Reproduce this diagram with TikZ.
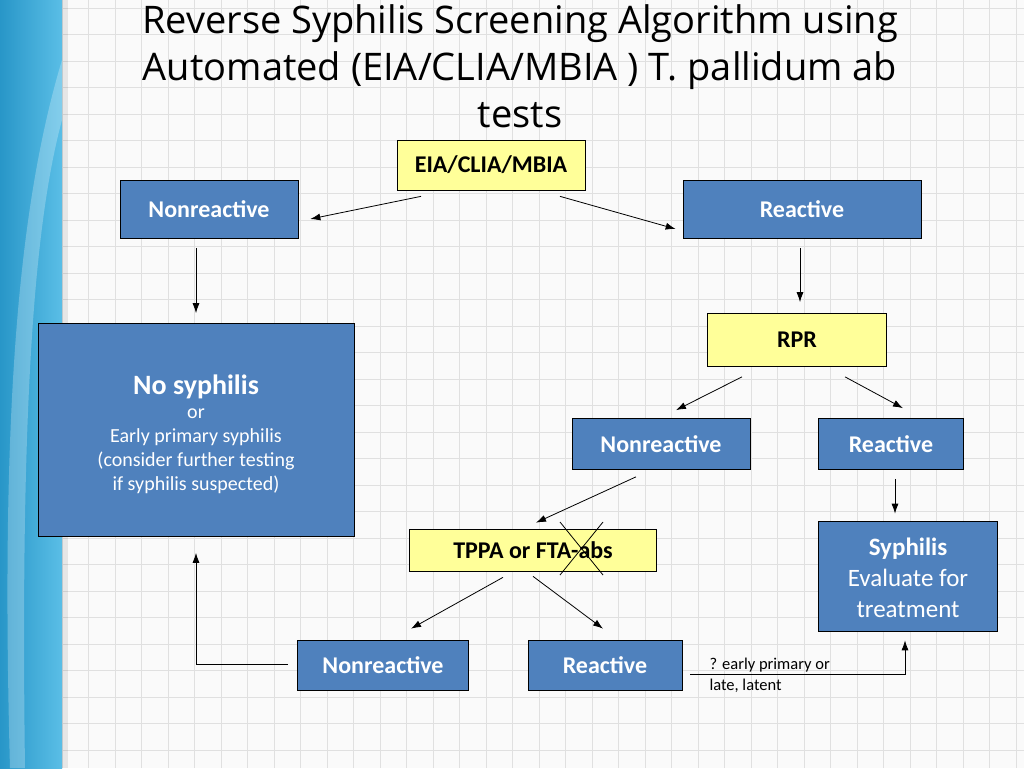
\documentclass[tikz,border=0pt]{standalone}
\usepackage{fontspec}
\usetikzlibrary{arrows.meta}
\setmainfont{Carlito}
\newfontfamily\titlefont{Open Sans}
\begin{document}
\begin{tikzpicture}[x=1pt,y=-1pt,
  blu/.style={draw=black,fill={rgb,255:red,79;green,129;blue,189},text=white,font=\bfseries\fontsize{24}{28}\selectfont,align=center,inner sep=0,line width=0.7pt},
  yel/.style={draw=black,fill={rgb,255:red,255;green,255;blue,153},font=\bfseries\fontsize{24}{28}\selectfont,inner sep=0,line width=0.7pt},
  arr/.style={-{Latex[length=10pt,width=7pt]},line width=0.8pt}]
\useasboundingbox (0,0) rectangle (1024,768);
\fill[white!98!black] (0,0) rectangle (1024,768);
\foreach \i in {0,...,38} \draw[black!12,line width=0.8pt] (62+\i*26.5,0) -- (62+\i*26.5,768);
\foreach \i in {0,...,29} \draw[black!12,line width=0.8pt] (62,8+\i*26.5) -- (1024,8+\i*26.5);
\shade[left color={rgb,255:red,40;green,150;blue,200},right color={rgb,255:red,90;green,190;blue,230}] (0,0) rectangle (62,768);
\fill[white,opacity=0.25] (62,60) .. controls (20,200) and (0,400) .. (10,768) -- (25,768) .. controls (20,400) and (35,220) .. (62,120) -- cycle;
\fill[black,opacity=0.08] (62,0) rectangle (68,768);
\node[font=\titlefont\fontsize{38}{47}\selectfont,align=center] (title) at (520,66) {Reverse Syphilis Screening Algorithm using\\Automated (EIA/CLIA/MBIA ) T. pallidum ab\\tests};
\node[yel,minimum width=188,minimum height=50] (eia) at (491,165) {EIA/CLIA/MBIA};
\node[blu,minimum width=178,minimum height=58] (nr1) at (209,209) {Nonreactive};
\node[blu,minimum width=238,minimum height=58] (r1) at (802,209) {Reactive};
\node[blu,minimum width=316,minimum height=213] (ns) at (196,430) {};
\node[text=white,align=center,font=\fontsize{20}{24}\selectfont] (nst) at (196,434) {{\bfseries\fontsize{28}{31}\selectfont No syphilis}\\or\\Early primary syphilis\\(consider further testing\\if syphilis suspected)};
\node[yel,minimum width=179,minimum height=53] (rpr) at (797,340) {RPR};
\node[blu,minimum width=178,minimum height=51] (nr2) at (661,444) {Nonreactive};
\node[blu,minimum width=145,minimum height=51] (r2) at (891,444) {Reactive};
\node[blu,minimum width=179,minimum height=110] (sy) at (908,576) {};
\node[text=white,align=center,font=\fontsize{25}{31}\selectfont] (syt) at (908,578) {{\bfseries Syphilis}\\Evaluate for\\treatment};
\node[yel,minimum width=247,minimum height=42] (tp) at (533,550) {TPPA or FTA-abs};
\node[blu,minimum width=171,minimum height=50] (nr3) at (383,665) {Nonreactive};
\node[blu,minimum width=154,minimum height=50] (r3) at (605,665) {Reactive};
\node[font=\fontsize{16.5}{21}\selectfont,align=left,anchor=west] (q) at (706,675) {? early primary or\\late, latent};
\coordinate (c1) at (560,522); \coordinate (c2) at (603,575);
\coordinate (c3) at (603,522); \coordinate (c4) at (560,575);
\draw[line width=0.8pt] (c1) -- (c2) (c3) -- (c4);
\draw[arr] ([shift={(-70,6)}]eia.south) -- ([shift={(12,10)}]nr1.east);
\draw[arr] ([shift={(69,6)}]eia.south) -- ([shift={(-7,20)}]r1.west);
\draw[arr] ([shift={(-13,10)}]nr1.south) -- ([shift={(0,-10)}]ns.north);
\draw[arr] ([shift={(-2,10)}]r1.south) -- ([shift={(3,-11)}]rpr.north);
\draw[arr] ([shift={(-55,10)}]rpr.south) -- ([shift={(15,-8)}]nr2.north);
\draw[arr] ([shift={(48,10)}]rpr.south) -- ([shift={(12,-10)}]r2.north);
\draw[arr] ([shift={(-25,7)}]nr2.south) -- ([shift={(3,-6)}]tp.north);
\draw[arr] ([shift={(4,9)}]r2.south) -- ([shift={(-13,-7)}]sy.north);
\draw[arr] ([shift={(-30,6)}]tp.south) -- ([shift={(28,-11)}]nr3.north);
\draw[arr] ([shift={(0,5)}]tp.south) -- ([shift={(-2,-11)}]r3.north);
\draw[arr] ([shift={(-9,-1)}]nr3.west) -| ([shift={(0,16)}]ns.south);
\draw[arr] ([shift={(8,9)}]r3.east) -| ([shift={(-3,9)}]sy.south);
\end{tikzpicture}
\end{document}
